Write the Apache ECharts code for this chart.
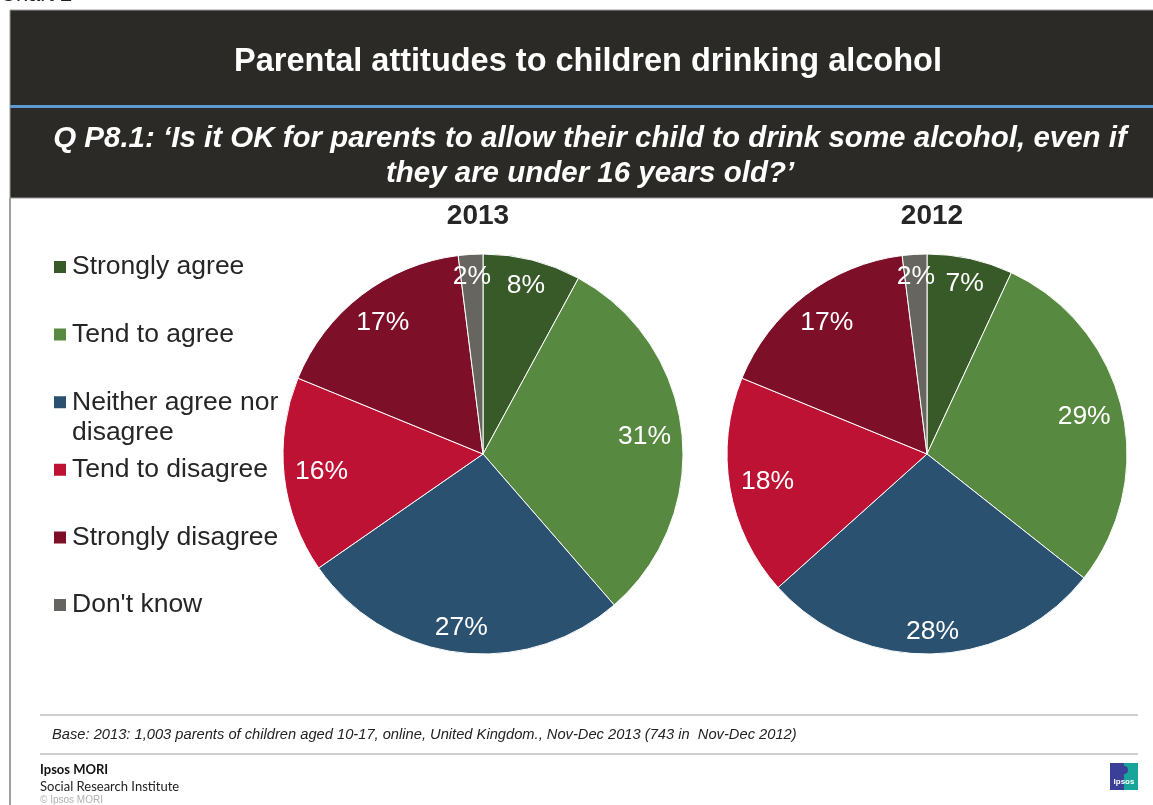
<!DOCTYPE html>
<html><head><meta charset="utf-8">
<script src="https://cdn.jsdelivr.net/npm/echarts@6/dist/echarts.min.js"></script>
<style>html,body{margin:0;padding:0;background:#fff}#c{width:1153px;height:805px}</style>
</head><body><div id="c"></div>
<script>
const categories = ['Strongly agree', 'Tend to agree', 'Neither agree nor disagree', 'Tend to disagree', 'Strongly disagree', "Don't know"];
const values2013 = [8, 31, 27, 16, 17, 2];
const values2012 = [7, 29, 28, 18, 17, 2];
const years = ['2013', '2012'];

const colors = ['#385a28', '#578a40', '#2a5170', '#be1234', '#7e0f28', '#67655f'];
const FONT = '"Liberation Sans", Arial, sans-serif';
const pieCenters = [483, 927];
const pieCY = 454;
const R = 200;
const LABEL_REACH = 190; // how far (from centre) the outer side of a label box may reach

function mkData(vals) {
  return categories.map((n, i) => ({ name: n, value: vals[i] }));
}
function pieSeries(vals, cx) {
  return {
    type: 'pie', radius: [0, R], center: [cx, pieCY], startAngle: 90, clockwise: true,
    data: mkData(vals),
    label: { show: true, position: 'inside', formatter: '{c}%', color: '#ffffff', fontSize: 26.5, fontFamily: FONT, padding: [4, 0, 0, 0] },
    labelLine: { show: false },
    labelLayout: function (p) {
      const r = p.labelRect;
      const lx = r.x + r.width / 2, ly = r.y + r.height / 2;
      const dx = lx - cx, dy = ly - pieCY;
      const len = Math.sqrt(dx * dx + dy * dy) || 1;
      const ux = dx / len, uy = dy / len;
      const d = LABEL_REACH - Math.abs(ux) * r.width / 2 - Math.abs(uy) * (r.height - 4) / 2;
      return { x: cx + ux * d, y: pieCY + uy * d };
    },
    itemStyle: { borderColor: '#ffffff', borderWidth: 1 },
    emphasis: { disabled: true }, silent: true, animation: false
  };
}

const legends = categories.map((name, i) => {
  const center = 267 + i * 67.6;
  const multi = name === 'Neither agree nor disagree';
  return {
    data: [name], left: 52, top: center - 15, orient: 'vertical',
    padding: 0, itemWidth: 14, itemHeight: 14, itemGap: 0, icon: 'rect', selectedMode: false,
    formatter: multi ? 'Neither agree nor' : '{name}',
    textStyle: { fontSize: 26.5, fontFamily: FONT, color: '#262626', lineHeight: 30 }
  };
});

function txt(x, y, text, font, fill, align, valign) {
  return { type: 'text', x: x, y: y, silent: true, z: 10,
    style: { text: text, font: font, fill: fill, align: align || 'left', verticalAlign: valign || 'middle',
             textAlign: align || 'left', textVerticalAlign: valign || 'middle' } };
}

const graphics = [
  txt(0, -5, 'Chart 2', '22px ' + FONT, '#222', 'left'),
  { type: 'rect', silent: true, shape: { x: 10, y: 10, width: 1160, height: 188 }, style: { fill: '#2b2a26', stroke: '#9a9a9a', lineWidth: 1 } },
  { type: 'rect', silent: true, shape: { x: 10, y: 105, width: 1160, height: 3 }, style: { fill: '#5b9bd2' } },
  { type: 'line', silent: true, shape: { x1: 10, y1: 198, x2: 10, y2: 805 }, style: { stroke: '#a0a0a0', lineWidth: 2 } },
  txt(588, 62, 'Parental attitudes to children drinking alcohol', 'bold 32.5px ' + FONT, '#ffffff', 'center'),
  txt(590, 139, 'Q P8.1: \u2018Is it OK for parents to allow their child to drink some alcohol, even if', 'italic bold 29.5px ' + FONT, '#ffffff', 'center'),
  txt(590, 174, 'they are under 16 years old?\u2019', 'italic bold 29.5px ' + FONT, '#ffffff', 'center'),
  txt(478, 216, years[0], 'bold 28px ' + FONT, '#262626', 'center'),
  txt(932, 216, years[1], 'bold 28px ' + FONT, '#262626', 'center'),
  txt(72, 433, 'disagree', '26.5px ' + FONT, '#262626', 'left'),
  { type: 'line', silent: true, shape: { x1: 40, y1: 715, x2: 1138, y2: 715 }, style: { stroke: '#cfcfcf', lineWidth: 2 } },
  { type: 'line', silent: true, shape: { x1: 40, y1: 754, x2: 1138, y2: 754 }, style: { stroke: '#cfcfcf', lineWidth: 2 } },
  txt(52, 735, 'Base: 2013: 1,003 parents of children aged 10-17, online, United Kingdom., Nov-Dec 2013 (743 in  Nov-Dec 2012)', 'italic 14.7px ' + FONT, '#222', 'left'),
  txt(40, 770, 'Ipsos MORI', 'bold 13px Lato, ' + FONT, '#111', 'left'),
  txt(40, 787, 'Social Research Institute', '13px Lato, ' + FONT, '#222', 'left'),
  txt(40, 800, '\u00a9 Ipsos MORI', '10px ' + FONT, '#b0b0b0', 'left'),
  { type: 'rect', silent: true, shape: { x: 1110, y: 763, width: 15, height: 27 }, style: { fill: '#3a3f98' } },
  { type: 'rect', silent: true, shape: { x: 1124, y: 763, width: 14, height: 27 }, style: { fill: '#17a49a' } },
  { type: 'circle', silent: true, shape: { cx: 1124, cy: 770, r: 4 }, style: { fill: '#3a3f98' } },
  txt(1124, 782, 'Ipsos', 'bold 8px ' + FONT, '#ffffff', 'center')
];

const chart = echarts.init(document.getElementById('c'), null, { renderer: 'canvas' });
chart.setOption({
  backgroundColor: '#ffffff',
  color: colors,
  animation: false,
  legend: legends,
  graphic: graphics,
  series: [
    pieSeries(values2013, pieCenters[0]),
    pieSeries(values2012, pieCenters[1])
  ]
});
</script>
</body></html>
